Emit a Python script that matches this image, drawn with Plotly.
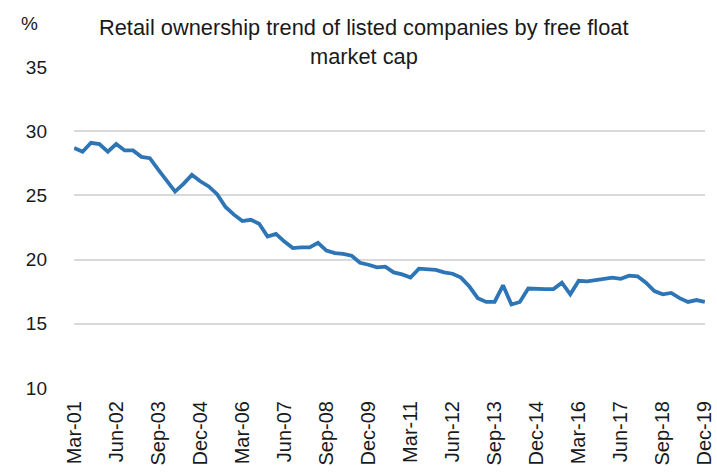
import pandas as pd
import plotly.graph_objects as go

# Quarterly retail ownership share (%), Mar-01 .. Dec-19
retail_share = [
    28.7, 28.4, 29.1, 29.0, 28.4, 29.0, 28.5, 28.5, 28.0, 27.9,
    27.0, 26.1, 25.3, 25.9, 26.6, 26.1, 25.7, 25.1, 24.1, 23.5,
    23.0, 23.1, 22.8, 21.8, 22.0, 21.4, 20.9, 20.95, 20.95, 21.3,
    20.7, 20.5, 20.45, 20.3, 19.75, 19.6, 19.4, 19.45, 19.0, 18.85,
    18.6, 19.3, 19.25, 19.2, 19.0, 18.9, 18.6, 17.9, 17.0, 16.7,
    16.7, 18.0, 16.5, 16.7, 17.75, 17.7, 17.7, 17.7, 18.2, 17.3,
    18.35, 18.3, 18.4, 18.5, 18.6, 18.5, 18.75, 18.7, 18.2, 17.55,
    17.3, 17.4, 17.0, 16.7, 16.85, 16.7,
]

quarters = [d.strftime("%b-%y") for d in pd.date_range("2001-03-31", "2019-12-31", freq="QE")]

tick_labels = [
    "Mar-01", "Jun-02", "Sep-03", "Dec-04", "Mar-06", "Jun-07", "Sep-08", "Dec-09",
    "Mar-11", "Jun-12", "Sep-13", "Dec-14", "Mar-16", "Jun-17", "Sep-18", "Dec-19",
]
y_ticks = [10, 15, 20, 25, 30, 35]

title_lines = ["Retail ownership trend of listed companies by free float", "market cap"]

TEXT = "#1a1a1a"
BASE_FONT = "Liberation Sans, Arial, sans-serif"

fig = go.Figure(
    go.Scatter(
        x=quarters,
        y=retail_share,
        mode="lines",
        line=dict(color="#2e75b6", width=3.8),
    )
)

annotations = [
    dict(
        text="%",
        xref="paper", yref="paper",
        x=-0.054, y=1.134,
        xanchor="right", yanchor="middle",
        showarrow=False,
        font=dict(size=19, color=TEXT),
    )
]
# Two-line chart title, each line centred above the plot
for text, ypos in zip(title_lines, [1.124, 1.034]):
    annotations.append(
        dict(
            text=text,
            xref="paper", yref="paper",
            x=0.459, y=ypos,
            xanchor="center", yanchor="middle",
            showarrow=False,
            font=dict(size=21.8, color=TEXT, family=BASE_FONT),
        )
    )

fig.update_layout(
    width=717,
    height=473,
    margin=dict(l=74, r=12, t=67, b=85),
    paper_bgcolor="white",
    plot_bgcolor="white",
    showlegend=False,
    font=dict(family=BASE_FONT, color=TEXT),
    annotations=annotations,
)

fig.update_xaxes(
    type="category",
    range=[-0.02, len(quarters) - 0.98],
    tickmode="array",
    tickvals=tick_labels,
    ticktext=tick_labels,
    tickangle=-90,
    tickfont=dict(size=20),
    showgrid=False,
    showline=False,
    ticks="",
    ticklabelstandoff=8,
    automargin=False,
)

fig.update_yaxes(
    range=[10, 35],
    tickvals=y_ticks,
    tickfont=dict(size=19),
    showgrid=True,
    gridcolor="#d9d9d9",
    gridwidth=1.5,
    zeroline=False,
    showline=False,
    ticks="",
    ticklabelstandoff=26,
    automargin=False,
)

fig.write_html("out.html")
